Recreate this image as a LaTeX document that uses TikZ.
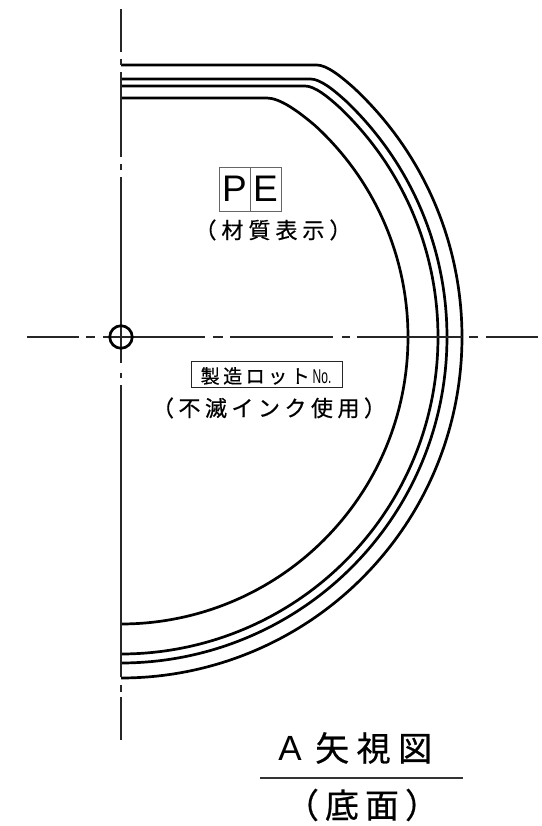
\documentclass[tikz,border=0pt]{standalone}
\usepackage{fontspec}
\usepackage{graphicx}
\setmainfont{Liberation Sans}
\newfontfamily\cjk[RawFeature={embolden=0.6}]{Noto Sans CJK JP}
\usetikzlibrary{calc}
\newcommand{\tk}[1]{\kern#1pt\relax}
\newcommand{\bowl}[5]{% radius, Y, start angle, corner length, angle back
  \draw[bowlline] (121,#2) -- ({121+#1*cos(#3)-#4},#2)
    .. controls ({121+#1*cos(#3)},#2) and ({121+#1*cos(#3-#5/2)-0.1},{489+#1*sin(#3-#5/2)+0.1}) ..
    ({121+#1*cos(#3-#5)},{489+#1*sin(#3-#5)})
    arc[start angle=#3-#5,end angle=-90,radius=#1];}
\tikzset{
  bowlline/.style={line width=2.7pt,black},
  centre/.style={line width=1.3pt,black!85},
  thinbox/.style={draw=black!60,line width=0.8pt},
  label22/.style={font=\cjk\fontsize{22}{24}\selectfont,inner sep=0pt,text=black},
  label34/.style={font=\cjk\fontsize{34}{36}\selectfont,inner sep=0pt,text=black},
  pebox/.style={thinbox,minimum width=31pt,minimum height=44pt,inner sep=0pt,font=\fontsize{37}{38}\selectfont}
}
\begin{document}
\begin{tikzpicture}[x=1pt,y=1pt]
\useasboundingbox (0,0) rectangle (541,826);
\fill[white] (0,0) rectangle (541,826);
% bowl outlines
\bowl{341}{761}{52.9}{10}{6}
\bowl{326}{747}{52.3}{10}{6}
\bowl{317}{740}{52.3}{10}{6}
\bowl{287}{728}{56.4}{13}{9}
% centre lines
\coordinate (vt) at (121,817);
\coordinate (vb) at (121,86);
\coordinate (hl) at (27,489);
\coordinate (hr) at (538,489);
\draw[centre] (vt) -- (121,774);
\draw[centre] (121,767) -- (121,761);
\draw[centre] (121,754) -- (121,669);
\draw[centre] (121,662) -- (121,656);
\draw[centre] (121,649) -- (121,463);
\draw[centre] (121,453) -- (121,448);
\draw[centre] (121,441) -- (121,149);
\draw[centre] (121,141) -- (121,134);
\draw[centre] (121,129) -- (vb);
\draw[centre] (hl) -- (79,489);
\draw[centre] (86,489) -- (95,489);
\draw[centre] (103,489) -- (205,489);
\draw[centre] (213,489) -- (223,489);
\draw[centre] (230,489) -- (333,489);
\draw[centre] (342,489) -- (350,489);
\draw[centre] (357,489) -- (462,489);
\draw[centre] (469,489) -- (478,489);
\draw[centre] (486,489) -- (hr);
\node[circle,draw=black,line width=2.7pt,minimum size=22.5pt,inner sep=0pt] (hub) at (121,489) {};
% PE marking
\node[pebox] (p) at (234.5,637) {P};
\node[pebox] (e) at (265.5,637) {E};
\node[label22] (pelabel) at (273,596) {（\tk{5}材\tk{5}質\tk{5}表\tk{5}示\tk{5}）};
% lot marking
\node[thinbox,draw=black!85,minimum width=151pt,minimum height=26pt,inner sep=0pt] (lotbox) at (266.5,452) {};
\node[inner sep=0pt,font=\cjk\fontsize{19}{20}\selectfont,text=black,anchor=west] (lot) at (200.5,450) {製\tk{3.5}造\tk{3.5}ロ\tk{3.5}ッ\tk{3.5}ト\tk{3}\scalebox{0.6}[1]{\fontsize{20}{20}\selectfont\rmfamily No.}};
\node[label22] (lotlabel) at (269,418) {（\tk{4.5}不\tk{4.5}滅\tk{4.5}イ\tk{4.5}ン\tk{4.5}ク\tk{4.5}使\tk{4.5}用\tk{4.5}）};
% title
\node[inner sep=0pt,font=\fontsize{35}{36}\selectfont,text=black] (ta) at (290,78) {A};
\node[label34,anchor=west] (tb) at (315,78) {矢\tk{7.5}視\tk{7.5}図};
\coordinate (rl) at (260,48);
\coordinate (rr) at (463,48);
\draw[line width=1.2pt,black!80] (rl) -- (rr);
\node[label34] (tc) at (362,21) {（\tk{6}底\tk{6}面\tk{6}）};
\end{tikzpicture}
\end{document}
